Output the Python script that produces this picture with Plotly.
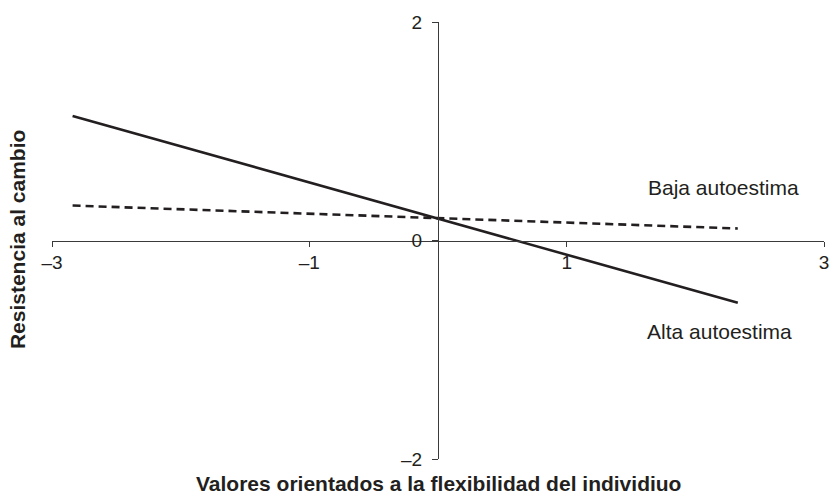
import plotly.graph_objects as go

# Data
x_ends = [-2.84, 2.33]
alta_autoestima = [1.14, -0.57]
baja_autoestima = [0.32, 0.11]

x_tickvals = [-3, -1, 1, 3]
x_ticktext = ["–3", "–1", "1", "3"]
y_tickvals = [-2, 0, 2]
y_ticktext = ["–2", "0", "2"]

ink = "#231f20"
axis_col = "#3a3a3a"

fig = go.Figure()
fig.add_trace(go.Scatter(x=x_ends, y=alta_autoestima, mode="lines",
                         line=dict(color=ink, width=2.6), showlegend=False,
                         name="Alta autoestima"))
fig.add_trace(go.Scatter(x=x_ends, y=baja_autoestima, mode="lines",
                         line=dict(color=ink, width=2.6, dash="8px,5px"),
                         showlegend=False, name="Baja autoestima"))

tickfont = dict(family="Liberation Sans, Arial, sans-serif", size=19, color=ink)

fig.update_layout(
    width=831, height=498,
    margin=dict(l=52, r=7, t=22, b=39, autoexpand=False),
    plot_bgcolor="white", paper_bgcolor="white",
    xaxis=dict(range=[-3, 3], anchor="free", position=0.5, automargin=False,
               showline=True, linecolor=axis_col, linewidth=1.2,
               ticks="outside", ticklen=5, tickcolor=axis_col, tickwidth=1.2,
               tickvals=x_tickvals, ticktext=x_ticktext, tickfont=tickfont,
               ticklabelstandoff=0,
               showgrid=False, zeroline=False),
    yaxis=dict(range=[-2, 2], anchor="free", position=0.5, automargin=False,
               showline=True, linecolor=axis_col, linewidth=1.2,
               ticks="outside", ticklen=6, tickcolor=axis_col, tickwidth=1.2,
               tickvals=y_tickvals, ticktext=y_ticktext, tickfont=tickfont,
               ticklabelstandoff=6,
               showgrid=False, zeroline=False),
    annotations=[
        dict(text="Baja autoestima", x=2.22, y=0.485, xref="x", yref="y",
             showarrow=False, xanchor="center", yanchor="middle",
             font=dict(family="Liberation Sans, Arial, sans-serif", size=21, color=ink)),
        dict(text="Alta autoestima", x=2.19, y=-0.83, xref="x", yref="y",
             showarrow=False, xanchor="center", yanchor="middle",
             font=dict(family="Liberation Sans, Arial, sans-serif", size=21, color=ink)),
        dict(text="<b>Valores orientados a la flexibilidad del individiuo</b>",
             x=0.5, y=-0.057, xref="paper", yref="paper",
             showarrow=False, xanchor="center", yanchor="middle",
             font=dict(family="Liberation Sans, Arial, sans-serif", size=21, color=ink)),
        dict(text="<b>Resistencia al cambio</b>", textangle=-90,
             x=-0.0453, y=0.501, xref="paper", yref="paper",
             showarrow=False, xanchor="center", yanchor="middle",
             font=dict(family="Liberation Sans, Arial, sans-serif", size=21, color=ink)),
    ],
)

fig.write_html("out.html", config={"displayModeBar": False},
               post_script="document.body.style.margin='0';document.body.style.overflow='hidden';")
